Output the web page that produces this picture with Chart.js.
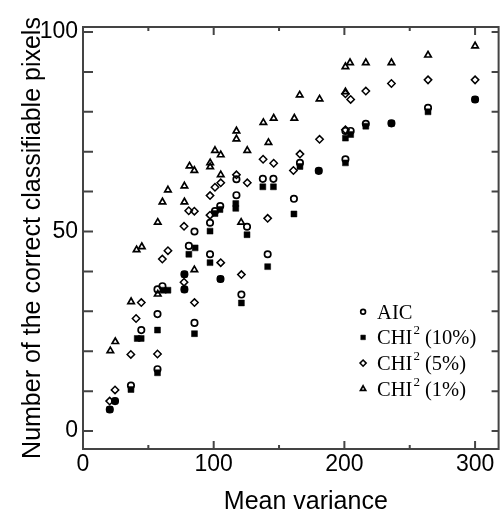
<!DOCTYPE html>
<html>
<head>
<meta charset="utf-8">
<script src="https://cdn.jsdelivr.net/npm/chart.js@4.4.0/dist/chart.umd.min.js"></script>
<style>
  html, body { margin: 0; padding: 0; background: #fff; }
  #wrap { width: 504px; height: 514px; }
</style>
</head>
<body>
<div id="wrap"><canvas id="pixels_chart" width="504" height="514"></canvas></div>
<script>
// values
const seriesNames = ['AIC', 'CHI² (10%)', 'CHI² (5%)', 'CHI² (1%)'];

const aicX = [20.5, 24.5, 36.7, 44.6, 57, 57, 57, 60.8, 77.6, 77.6, 81, 85.3, 85.3, 97.2, 97.2, 101, 105, 105.2, 117.4, 117.4, 121.2, 125.5, 137.6, 141.3, 145.7, 161.4, 166, 180.4, 200.8, 200.8, 204.8, 216.4, 236, 264, 300];
const aicY = [5.4, 7.5, 11.4, 25.3, 15.5, 29.3, 35.5, 36.3, 39.3, 35.5, 46.4, 50.0, 27.1, 52.2, 44.3, 55.1, 56.4, 38.1, 63.1, 59.1, 34.2, 51.2, 63.2, 44.3, 63.2, 58.2, 67.2, 65.2, 75.2, 68.1, 75.2, 77.0, 77.1, 81.0, 83.1];

const chi10X = [20.5, 24.5, 36.7, 41.5, 44.5, 57, 57, 61.5, 65, 77.6, 77.6, 81, 85.8, 85.3, 97.2, 97.2, 101, 104.8, 105.2, 116.9, 116.9, 121.2, 125.5, 137.6, 141.3, 145.7, 161.4, 166, 180.4, 200.8, 200.8, 204.8, 216.4, 236, 264, 300];
const chi10Y = [5.4, 7.5, 10.4, 23.2, 23.2, 14.6, 25.3, 35.3, 35.3, 39.3, 35.5, 44.3, 45.9, 24.4, 50.1, 42.2, 54.5, 55.5, 38.1, 57.0, 55.8, 32.1, 49.2, 61.2, 41.2, 61.2, 54.4, 66.3, 65.2, 73.4, 67.2, 74.3, 76.4, 77.1, 80.0, 83.1];

const chi5X = [20.4, 24.5, 36.6, 40.6, 44.6, 57, 60.7, 65, 77.3, 77.3, 80.9, 85.2, 85.3, 97.2, 97.2, 101, 105.4, 105.4, 117.4, 121.2, 125.7, 137.8, 141.3, 145.9, 161, 166, 181, 200.8, 200.8, 204.8, 216.4, 236, 264, 300];
const chi5Y = [7.5, 10.3, 19.2, 28.2, 32.2, 19.3, 43.1, 45.2, 51.3, 37.3, 55.2, 55.1, 32.2, 59.0, 54.1, 61.1, 62.2, 42.2, 64.2, 39.2, 62.2, 68.1, 53.3, 67.1, 65.3, 69.4, 73.1, 84.5, 75.5, 83.1, 85.2, 87.1, 88.0, 88.0];

const chi1X = [20.9, 24.7, 36.8, 41.0, 45.0, 57.2, 57.2, 60.8, 65.0, 77.6, 77.6, 81.5, 85.2, 85.2, 97.3, 97.3, 101, 105.4, 105.4, 117.4, 117.4, 121, 125.7, 138, 141.9, 145.9, 161.7, 165.8, 181, 200.8, 204.3, 200.8, 216.4, 236, 264, 300];
const chi1Y = [20.1, 22.4, 32.4, 45.4, 46.2, 52.3, 34.3, 57.4, 60.4, 61.4, 57.4, 66.4, 65.3, 40.4, 67.2, 66.2, 70.3, 69.2, 64.2, 75.2, 73.2, 52.3, 70.3, 77.3, 72.3, 78.4, 78.4, 84.2, 83.2, 91.3, 92.3, 85.0, 92.3, 92.3, 94.2, 96.5];

const xTickValues = [0, 100, 200, 300];
const xMinorValues = [50, 150, 250];
const yTickValues = [0, 50, 100];
const yMinorValues = [10, 20, 30, 40, 60, 70, 80, 90];

const toPoints = (xs, ys) => xs.map((x, i) => ({ x: x, y: ys[i] }));

const sans = 'Liberation Sans, Arial, sans-serif';
const serif = 'Liberation Serif, Times New Roman, serif';

// marker look per series (data size, legend size)
const markers = [
  { style: 'circle',   r: 3.2, lr: 2.4, fill: 'rgba(0,0,0,0)', bw: 1.7 },
  { style: 'rect',     r: 4.2, lr: 3.3, fill: '#000',          bw: 0.5 },
  { style: 'rectRot',  r: 3.7, lr: 3.1, fill: 'rgba(0,0,0,0)', bw: 1.5 },
  { style: 'triangle', r: 3.7, lr: 3.0, fill: 'rgba(0,0,0,0)', bw: 1.7 },
];

const seriesData = [
  toPoints(aicX, aicY),
  toPoints(chi10X, chi10Y),
  toPoints(chi5X, chi5Y),
  toPoints(chi1X, chi1Y),
];

// box with inward ticks on all four sides
const frameTicks = {
  id: 'frameTicks',
  afterDatasetsDraw(chart) {
    const { ctx, chartArea: a } = chart;
    const xs = chart.scales.x, ys = chart.scales.y;
    ctx.save();
    ctx.strokeStyle = '#444';
    ctx.lineWidth = 2;
    ctx.strokeRect(a.left, a.top, a.right - a.left, a.bottom - a.top);
    ctx.beginPath();
    const mark = (x0, y0, x1, y1) => { ctx.moveTo(x0, y0); ctx.lineTo(x1, y1); };
    xTickValues.forEach(v => {
      const px = xs.getPixelForValue(v);
      mark(px, a.bottom, px, a.bottom - 8);
      mark(px, a.top, px, a.top + 8);
    });
    xMinorValues.forEach(v => {
      const px = xs.getPixelForValue(v);
      mark(px, a.bottom, px, a.bottom - 4);
      mark(px, a.top, px, a.top + 4);
    });
    yTickValues.concat(yMinorValues).forEach(v => {
      const py = ys.getPixelForValue(v);
      mark(a.left, py, a.left + 10, py);
      mark(a.right, py, a.right - 7, py);
    });
    ctx.stroke();
    ctx.restore();
  }
};

// legend in the lower right of the plot, serif text with superscript 2
const insideLegend = {
  id: 'insideLegend',
  afterDatasetsDraw(chart) {
    const { ctx, chartArea: a } = chart;
    const mx = a.right - 135.5;
    const tx = a.right - 121.5;
    ctx.save();
    chart.data.datasets.forEach((ds, i) => {
      const cy = a.top + 284.7 + i * 25.7;
      const m = markers[i];
      ctx.fillStyle = m.fill;
      ctx.strokeStyle = '#000';
      ctx.lineWidth = m.bw;
      Chart.helpers.drawPoint(ctx, { pointStyle: m.style, radius: m.lr, borderWidth: m.bw, rotation: 0 }, mx, cy);

      ctx.fillStyle = '#000';
      ctx.textBaseline = 'alphabetic';
      ctx.textAlign = 'left';
      const base = cy + 7;
      const parts = ds.label.split('²');
      ctx.font = '20.5px ' + serif;
      let x = tx;
      ctx.fillText(parts[0], x, base);
      x += ctx.measureText(parts[0]).width;
      if (parts.length > 1) {
        ctx.font = '13px ' + serif;
        ctx.fillText('2', x + 1, base - 10);
        x += ctx.measureText('2').width + 1;
        ctx.font = '20.5px ' + serif;
        ctx.fillText(parts[1], x, base);
      }
    });
    ctx.restore();
  }
};

// x axis title, a little right of the plot centre as in the figure
const xTitle = {
  id: 'xTitle',
  afterDraw(chart) {
    const { ctx, chartArea: a } = chart;
    ctx.save();
    ctx.fillStyle = '#000';
    ctx.font = '25px ' + sans;
    ctx.textAlign = 'center';
    ctx.textBaseline = 'middle';
    ctx.fillText('Mean variance', (a.left + a.right) / 2 + 15, a.bottom + 53);
    ctx.restore();
  }
};

const chart = new Chart('pixels_chart', {
  type: 'scatter',
  data: {
    datasets: seriesNames.map((name, i) => ({
      label: name,
      data: seriesData[i],
      pointStyle: markers[i].style,
      pointRadius: markers[i].r,
      pointHoverRadius: markers[i].r,
      backgroundColor: markers[i].fill,
      borderColor: '#000',
      borderWidth: markers[i].bw,
      showLine: false,
    })),
  },
  options: {
    responsive: false,
    animation: false,
    devicePixelRatio: 1,
    layout: { padding: { top: 27, right: 0, bottom: 0, left: 0 } },
    plugins: {
      legend: { display: false },
      tooltip: { enabled: false },
    },
    scales: {
      x: {
        type: 'linear',
        position: 'bottom',
        min: 0,
        max: 318,
        afterBuildTicks: s => { s.ticks = xTickValues.map(v => ({ value: v })); },
        afterFit: s => { s.height = 65; },
        grid: { display: false, drawTicks: false },
        border: { display: false },
        ticks: { color: '#000', padding: 2, autoSkip: false, maxRotation: 0, font: { family: sans, size: 23 } },
      },
      y: {
        type: 'linear',
        position: 'left',
        min: -4.5,
        max: 101.25,
        afterBuildTicks: s => { s.ticks = yTickValues.map(v => ({ value: v })); },
        afterFit: s => { s.width = 83; },
        grid: { display: false, drawTicks: false },
        border: { display: false },
        ticks: { color: '#000', padding: 5, autoSkip: false, font: { family: sans, size: 23 } },
        title: {
          display: true,
          text: 'Number of the correct classifiable pixels',
          color: '#000',
          font: { family: sans, size: 25, lineHeight: 1 },
          padding: { top: 21, bottom: 0 },
        },
      },
    },
  },
  plugins: [frameTicks, insideLegend, xTitle],
});
</script>
</body>
</html>
